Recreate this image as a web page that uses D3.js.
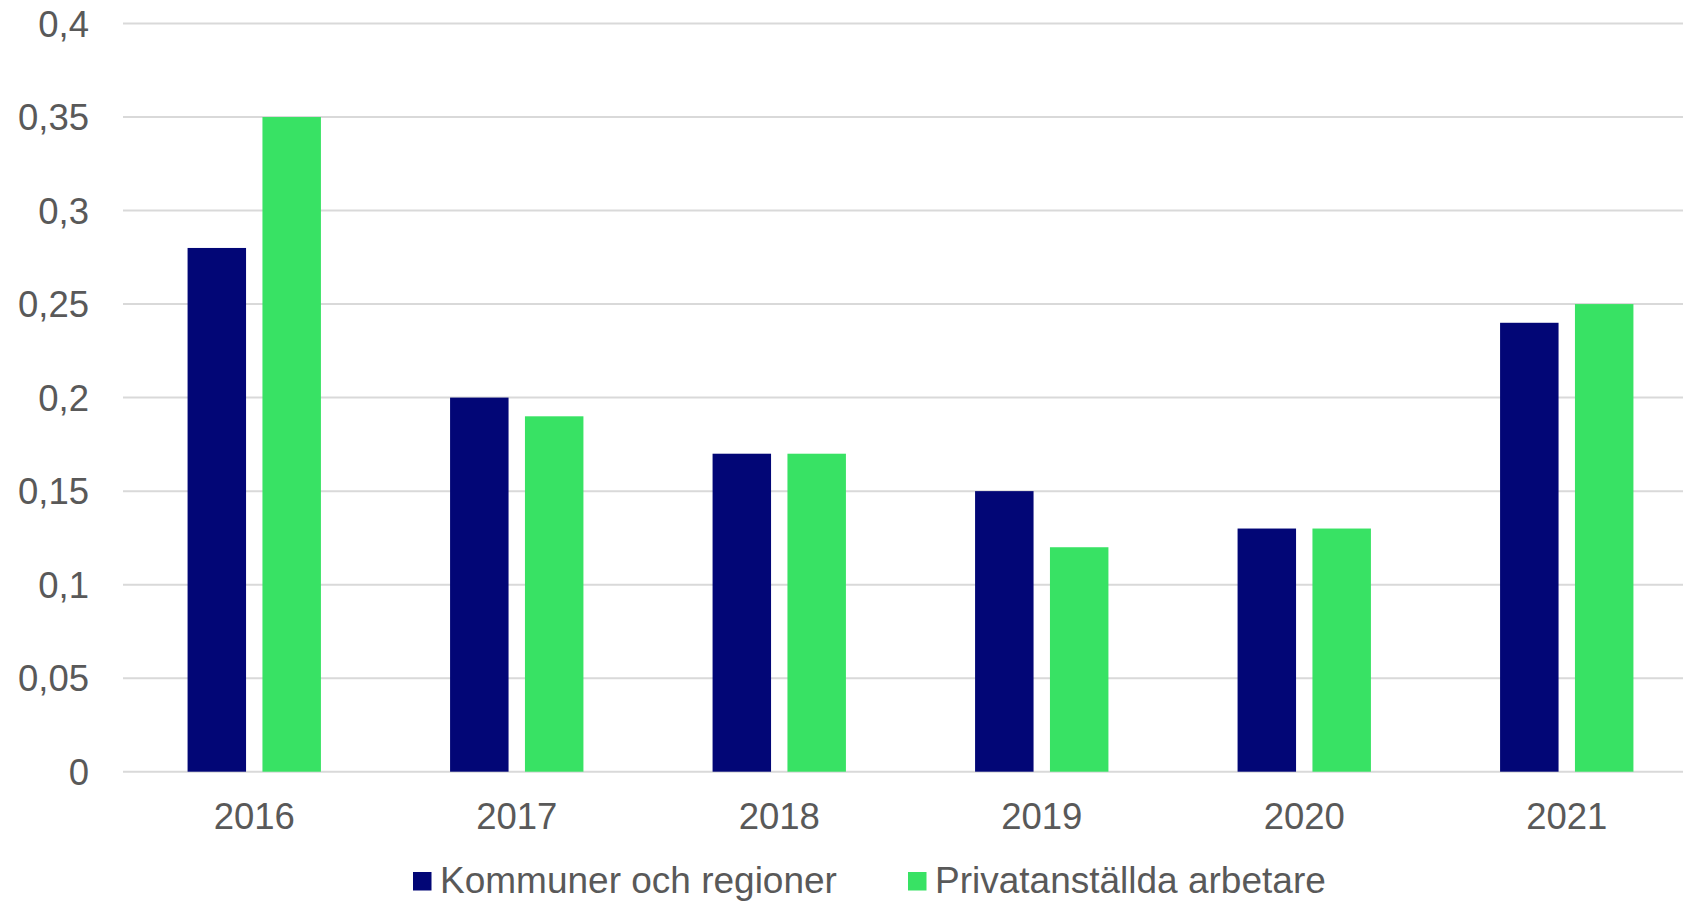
<!DOCTYPE html>
<html>
<head>
<meta charset="utf-8">
<script src="https://cdn.jsdelivr.net/npm/d3@7"></script>
<style>
  html, body { margin: 0; padding: 0; background: #fff; overflow: hidden; }
  svg { display: block; }
  text { font-family: "Liberation Sans", Arial, sans-serif; fill: #595959; }
</style>
</head>
<body>
<svg id="chart" width="1683" height="901"></svg>
<script>
const categories = ["2016", "2017", "2018", "2019", "2020", "2021"];
const seriesNames = ["Kommuner och regioner", "Privatanställda arbetare"];
const kommuner = [0.28, 0.20, 0.17, 0.15, 0.13, 0.24];
const privat = [0.35, 0.19, 0.17, 0.12, 0.13, 0.25];
const yTicks = [0, 0.05, 0.1, 0.15, 0.2, 0.25, 0.3, 0.35, 0.4];
const yTickLabels = ["0", "0,05", "0,1", "0,15", "0,2", "0,25", "0,3", "0,35", "0,4"];
const colors = ["#020676", "#38E264"];

const svg = d3.select("#chart");
const W = 1683;
const plotLeft = 123, plotRight = 1698;
const y0 = 771.7, yTop = 23.5;
const fontSize = "36.5px";

const x = d3.scaleBand().domain(categories).range([plotLeft, plotRight])
  .paddingInner(0.492).paddingOuter(0.246);
const xInner = d3.scaleBand().domain([0, 1]).range([0, x.bandwidth()])
  .paddingInner(0.219).paddingOuter(0);
const y = d3.scaleLinear().domain([0, 0.4]).range([y0, yTop]);

// gridlines
svg.append("g").selectAll("line").data(yTicks).join("line")
  .attr("x1", plotLeft).attr("x2", W)
  .attr("y1", d => y(d)).attr("y2", d => y(d))
  .attr("stroke", "#d9d9d9").attr("stroke-width", 2);

// y axis labels
const yAxis = d3.axisLeft(y).tickValues(yTicks)
  .tickFormat((d, i) => yTickLabels[i]).tickSize(0).tickPadding(0);
const gy = svg.append("g").attr("transform", `translate(89,0)`).call(yAxis);
gy.select(".domain").remove();
gy.selectAll("text").attr("font-size", fontSize).attr("fill", "#595959")
  .attr("font-family", "'Liberation Sans', Arial, sans-serif")
  .attr("dy", "0.35em");

// bars
const data = categories.map((c, i) => ({ cat: c, vals: [kommuner[i], privat[i]] }));
const groups = svg.append("g").selectAll("g").data(data).join("g")
  .attr("transform", d => `translate(${x(d.cat)},0)`);
groups.selectAll("rect").data(d => d.vals.map((v, s) => ({ v, s }))).join("rect")
  .attr("x", d => xInner(d.s))
  .attr("width", xInner.bandwidth())
  .attr("y", d => y(d.v))
  .attr("height", d => y0 - y(d.v))
  .attr("fill", d => colors[d.s]);

// x axis labels
const xAxis = d3.axisBottom(x).tickSize(0).tickPadding(0);
const gx = svg.append("g").attr("transform", `translate(0,829)`).call(xAxis);
gx.select(".domain").remove();
gx.selectAll("text").attr("font-size", fontSize).attr("fill", "#595959")
  .attr("font-family", "'Liberation Sans', Arial, sans-serif")
  .attr("dy", "0");

// legend
const legendX = [413, 908];
const lg = svg.append("g").selectAll("g").data(seriesNames).join("g")
  .attr("transform", (d, i) => `translate(${legendX[i]},0)`);
lg.append("rect").attr("x", 0).attr("y", 872).attr("width", 18.5).attr("height", 18.5)
  .attr("fill", (d, i) => colors[i]);
lg.append("text").attr("x", 27).attr("y", 893).attr("font-size", "37px")
  .text(d => d);
</script>
</body>
</html>
